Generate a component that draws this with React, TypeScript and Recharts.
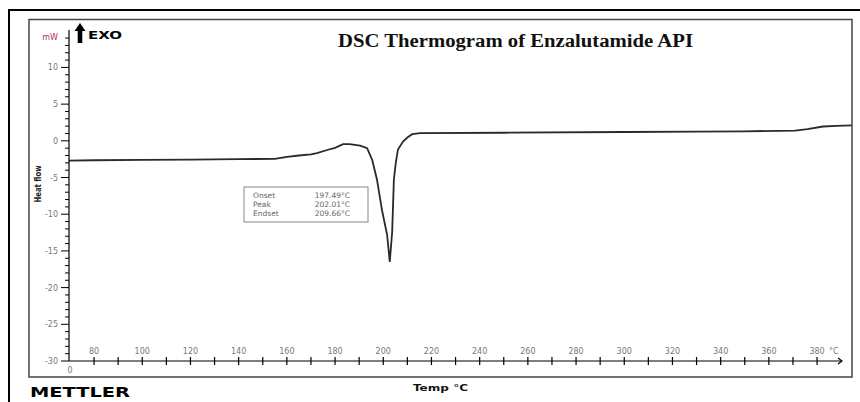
import React from 'react';
import { LineChart, Line, XAxis, YAxis, ReferenceLine } from 'recharts';

const temps = [69.6, 80, 100, 120, 140, 155, 160.1, 165, 170, 172.5, 176.7, 180, 183.3, 186, 190.4, 193.3, 195.4, 197.4, 199.5, 201.6, 202.7, 203.7, 204.4, 205.2, 206.1, 208.2, 210, 212, 215.3, 250, 300, 330, 350, 370.9, 376, 382.5, 388, 394.5];
const heatFlow = [-2.7, -2.65, -2.6, -2.55, -2.5, -2.45, -2.2, -2.0, -1.85, -1.68, -1.25, -0.95, -0.45, -0.45, -0.65, -1.0, -2.6, -5.3, -9.5, -12.8, -16.5, -12.4, -5.3, -3.0, -1.2, -0.1, 0.45, 0.9, 1.05, 1.1, 1.2, 1.25, 1.3, 1.4, 1.6, 1.95, 2.05, 2.1];

const xTicks = [70, 80, 90, 100, 110, 120, 130, 140, 150, 160, 170, 180, 190, 200, 210, 220, 230, 240, 250, 260, 270, 280, 290, 300, 310, 320, 330, 340, 350, 360, 370, 380];
const xLabels = [80, 100, 120, 140, 160, 180, 200, 220, 240, 260, 280, 300, 320, 340, 360, 380];
const yTicks = [-30, -29, -28, -27, -26, -25, -24, -23, -22, -21, -20, -19, -18, -17, -16, -15, -14, -13, -12, -11, -10, -9, -8, -7, -6, -5, -4, -3, -2, -1, 0, 1, 2, 3, 4, 5, 6, 7, 8, 9, 10, 11, 12, 13, 14];
const yLabels = [-30, -25, -20, -15, -10, -5, 0, 5, 10];

const events = [
  { name: 'Onset', value: '197.49°C' },
  { name: 'Peak', value: '202.01°C' },
  { name: 'Endset', value: '209.66°C' },
];

const rows = temps.map((t, i) => ({ t, v: heatFlow[i] }));

const FONT = 'DejaVu Sans, Verdana, sans-serif';

const XTick = (props: any) => {
  const { x, y, payload } = props;
  const v = payload.value;
  const labeled = xLabels.includes(v);
  if (v === 70) return null;
  return (
    <g>
      <line x1={x} x2={x} y1={y - 4} y2={y + 4} stroke="#000" strokeWidth={1.2} />
      {labeled && (
        <text x={x} y={y - 7} textAnchor="middle" fontSize={8} fill="#777" fontFamily={FONT}>
          {v}
        </text>
      )}
    </g>
  );
};

const YTick = (props: any) => {
  const { x, y, payload } = props;
  const v = payload.value;
  const major = yLabels.includes(v);
  return (
    <g>
      <line x1={x - (major ? 8 : 4)} x2={x} y1={y} y2={y} stroke="#000" strokeWidth={1} />
      {major && (
        <text x={x - 11} y={y + 3} textAnchor="end" fontSize={8} fill="#777" fontFamily={FONT}>
          {v}
        </text>
      )}
    </g>
  );
};

export default function App() {
  return (
    <div style={{ position: 'absolute', left: 0, top: 0, width: 860, height: 402, background: '#fff' }}>
      <LineChart width={860} height={402} data={rows} margin={{ top: 30, right: 8, bottom: 0, left: 29 }}>
        <XAxis
          type="number"
          dataKey="t"
          domain={[69.6, 394.5]}
          ticks={xTicks}
          interval={0}
          tick={<XTick />}
          tickLine={false}
          tickSize={0}
          tickMargin={0}
          axisLine={false}
          height={41}
          allowDataOverflow
        />
        <YAxis
          type="number"
          domain={[-30, 15.1]}
          ticks={yTicks}
          interval={0}
          tick={<YTick />}
          tickLine={false}
          tickSize={0}
          tickMargin={0}
          axisLine={{ stroke: '#000', strokeWidth: 1.2 }}
          width={40}
          allowDataOverflow
        />
        <ReferenceLine
          segment={[{ x: 69.6, y: -30 }, { x: 390, y: -30 }]}
          stroke="#000"
          strokeWidth={1.2}
          ifOverflow="visible"
        />
        <Line
          type="linear"
          dataKey="v"
          stroke="#2a2a2a"
          strokeWidth={1.8}
          dot={false}
          isAnimationActive={false}
        />
      </LineChart>
      <svg
        width={860}
        height={402}
        style={{ position: 'absolute', left: 0, top: 0, pointerEvents: 'none' }}
      >
        <path d="M9,402 L9,10 L860,10" fill="none" stroke="#000" strokeWidth={2} />
        <rect x={29} y={19.5} width={823} height={357.5} fill="none" stroke="#444" strokeWidth={1.5} />
        <text x={338} y={47} fontFamily="Liberation Serif, Times New Roman, serif" fontWeight="bold" fontSize={18} textLength={355} lengthAdjust="spacingAndGlyphs" fill="#111">
          DSC Thermogram of Enzalutamide API
        </text>
        <path d="M80,23 L85.5,31 L82.3,31 L82.3,43 L77.7,43 L77.7,31 L74.5,31 Z" fill="#000" />
        <text x={88} y={39} fontFamily={FONT} fontWeight="bold" fontSize={10} textLength={34} lengthAdjust="spacingAndGlyphs" fill="#000">
          EXO
        </text>
        <text x={58} y={40} textAnchor="end" fontFamily={FONT} fontSize={8} fill="#b0306a">
          mW
        </text>
        <text transform="translate(41,184) rotate(-90)" textAnchor="middle" fontFamily={FONT} fontWeight="bold" fontSize={8} textLength={37} lengthAdjust="spacingAndGlyphs" fill="#222">
          Heat flow
        </text>
        <rect x={244} y={187} width={124} height={35} fill="#fff" stroke="#888" strokeWidth={1} />
        {events.map((e, i) => (
          <g key={e.name}>
            <text x={253} y={198 + i * 9} fontFamily={FONT} fontSize={7.5} fill="#666">
              {e.name}
            </text>
            <text x={350} y={198 + i * 9} textAnchor="end" fontFamily={FONT} fontSize={7.5} fill="#666">
              {e.value}
            </text>
          </g>
        ))}
        <text x={70} y={373} textAnchor="middle" fontFamily={FONT} fontSize={8} fill="#777">0</text>
        <text x={829} y={354} fontFamily={FONT} fontSize={8} fill="#777">°C</text>
        <path d="M838,358 L842,361 L838,364" fill="none" stroke="#000" strokeWidth={1.2} />
        <text x={413} y={391} fontFamily={FONT} fontWeight="bold" fontSize={8} textLength={55} lengthAdjust="spacingAndGlyphs" fill="#111">
          Temp °C
        </text>
        <text x={30} y={397} fontFamily={FONT} fontWeight="bold" fontSize={14} textLength={100} lengthAdjust="spacingAndGlyphs" fill="#000">
          METTLER
        </text>
      </svg>
    </div>
  );
}
